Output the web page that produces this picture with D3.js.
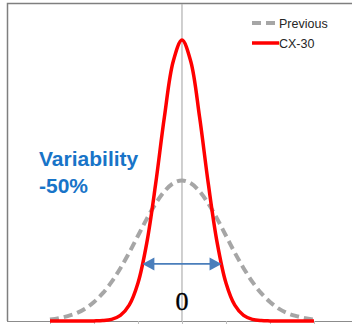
<!DOCTYPE html>
<html>
<head>
<meta charset="utf-8">
<script src="https://cdn.jsdelivr.net/npm/d3@7"></script>
<style>
  body { margin: 0; background: #fff; }
  svg { display: block; }
</style>
</head>
<body>
<svg width="352" height="324"></svg>
<script>
// x positions (in sigma units of the previous process)
var xs = [-3, -2.8, -2.6, -2.4, -2.2, -2, -1.8, -1.6, -1.4, -1.2, -1, -0.8, -0.6, -0.4, -0.2,
  0, 0.2, 0.4, 0.6, 0.8, 1, 1.2, 1.4, 1.6, 1.8, 2, 2.2, 2.4, 2.6, 2.8, 3];

var previous = [0.004, 0.008, 0.014, 0.022, 0.035, 0.054, 0.079, 0.111, 0.150, 0.194, 0.242, 0.290, 0.333, 0.368, 0.391,
  0.399, 0.391, 0.368, 0.333, 0.290, 0.242, 0.194, 0.150, 0.111, 0.079, 0.054, 0.035, 0.022, 0.014, 0.008, 0.004];

var cx30 = [0, 0, 0, 0, 0, 0.0003, 0.0012, 0.0048, 0.016, 0.045, 0.108, 0.222, 0.388, 0.579, 0.737,
  0.798, 0.737, 0.579, 0.388, 0.222, 0.108, 0.045, 0.016, 0.0048, 0.0012, 0.0003, 0, 0, 0, 0, 0];

var tickValues = [-3, -2, -1, 0, 1, 2, 3];
var seriesNames = ["Previous", "CX-30"];
var arrowSpan = [-0.9, 0.9];
var arrowLevel = 0.162;
var noteLines = ["Variability", "-50%"];
var centerLabel = "0";

var svg = d3.select("svg"),
  width = +svg.attr("width"),
  height = +svg.attr("height");

var x = d3.scaleLinear().domain([-3.977, 3.864]).range([7, 352]);
var y = d3.scaleLinear().domain([0, 0.903]).range([321, 3]);

// frame (left + top)
svg.append("path")
  .attr("d", "M7.5,321V3.5H352")
  .attr("fill", "none")
  .attr("stroke", "#7f7f7f")
  .attr("stroke-width", 1.5);

// bottom axis
var xAxis = d3.axisBottom(x)
  .tickValues(tickValues)
  .tickSize(4)
  .tickFormat("");
var ax = svg.append("g")
  .attr("transform", "translate(0," + 321 + ")")
  .call(xAxis);
ax.select(".domain").attr("stroke", "#8c8c8c").attr("d", "M7,0.5H352");
ax.selectAll(".tick line").attr("stroke", "#bfbfbf");

// center line
svg.append("line")
  .attr("x1", x(0)).attr("x2", x(0))
  .attr("y1", 4).attr("y2", 321)
  .attr("stroke", "#b0b0b0")
  .attr("stroke-width", 1.2);

var line = d3.line()
  .x(function (d, i) { return x(xs[i]); })
  .y(function (d) { return y(d); })
  .curve(d3.curveCatmullRom.alpha(0.5));

svg.append("path")
  .datum(previous)
  .attr("d", line)
  .attr("fill", "none")
  .attr("stroke", "#a6a6a6")
  .attr("stroke-width", 4)
  .attr("stroke-dasharray", "9,5");

svg.append("path")
  .datum(cx30)
  .attr("d", line)
  .attr("fill", "none")
  .attr("stroke", "#ff0000")
  .attr("stroke-width", 3.5);

// double arrow
var arrowColor = "#4a7ebb";
var ay = y(arrowLevel);
var ax1 = x(arrowSpan[0]), ax2 = x(arrowSpan[1]);
svg.append("line")
  .attr("x1", ax1 + 10).attr("x2", ax2 - 10)
  .attr("y1", ay).attr("y2", ay)
  .attr("stroke", arrowColor)
  .attr("stroke-width", 1.8);
svg.append("path")
  .attr("d", "M" + ax1 + "," + ay + "l12,-6.5v13z")
  .attr("fill", arrowColor);
svg.append("path")
  .attr("d", "M" + ax2 + "," + ay + "l-12,-6.5v13z")
  .attr("fill", arrowColor);

// center label
svg.append("text")
  .attr("x", x(0))
  .attr("y", 310)
  .attr("text-anchor", "middle")
  .attr("font-family", "'Liberation Serif', 'DejaVu Serif', serif")
  .attr("font-size", 26)
  .attr("stroke", "#000")
  .attr("stroke-width", 0.4)
  .attr("fill", "#000")
  .text(centerLabel);

// note text
svg.append("g").selectAll("text")
  .data(noteLines)
  .enter().append("text")
  .attr("x", 39)
  .attr("y", function (d, i) { return 166 + i * 27; })
  .attr("font-family", "'Liberation Sans', Arial, sans-serif")
  .attr("font-weight", "bold")
  .attr("font-size", 21)
  .attr("fill", "#1874c8")
  .text(function (d) { return d; });

// legend
var legend = svg.append("g").attr("transform", "translate(252,23)");
var items = legend.selectAll("g")
  .data(seriesNames)
  .enter().append("g")
  .attr("transform", function (d, i) { return "translate(0," + i * 20 + ")"; });
items.append("line")
  .attr("x1", 0).attr("x2", 27)
  .attr("stroke", function (d, i) { return i === 0 ? "#a6a6a6" : "#ff0000"; })
  .attr("stroke-width", function (d, i) { return i === 0 ? 4 : 3.5; })
  .attr("stroke-dasharray", function (d, i) { return i === 0 ? "9,5" : null; });
items.append("text")
  .attr("x", 27)
  .attr("y", 4.5)
  .attr("font-family", "'Liberation Sans', Arial, sans-serif")
  .attr("font-size", 12.5)
  .attr("fill", "#262626")
  .text(function (d) { return d; });
</script>
</body>
</html>
